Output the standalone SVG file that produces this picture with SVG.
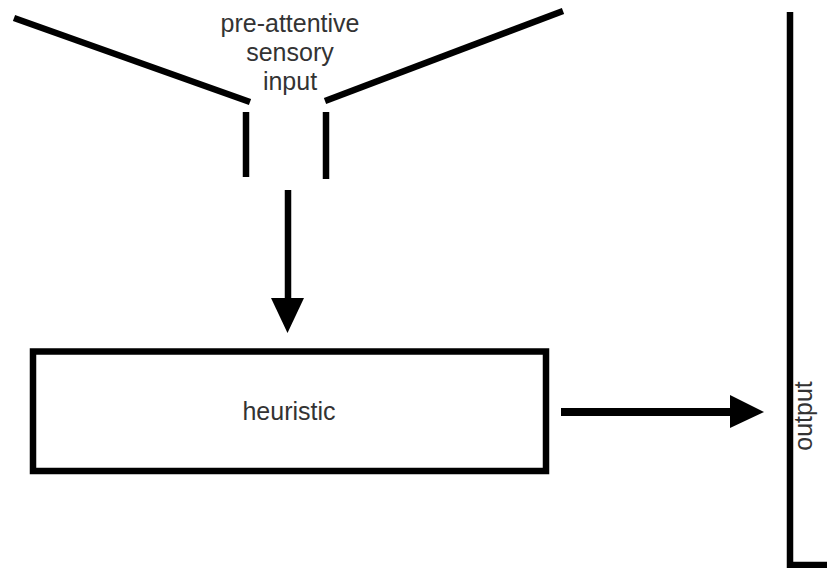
<svg xmlns="http://www.w3.org/2000/svg" width="827" height="568" viewBox="0 0 827 568">
<style>
.ln{stroke:#000;stroke-width:6.5;fill:none}
.t{font-family:"Liberation Sans",Arial,sans-serif;font-size:25px;fill:#333;text-anchor:middle}
</style>
<rect width="827" height="568" fill="#fff"/>
<g id="input">
<line class="ln" x1="14" y1="18" x2="250" y2="102"/>
<line class="ln" x1="325" y1="101" x2="563" y2="11"/>
<line class="ln" x1="246" y1="112" x2="246" y2="177"/>
<line class="ln" x1="326" y1="112" x2="326" y2="179"/>
<text class="t" x="290" y="32">pre-attentive</text>
<text class="t" x="290" y="61">sensory</text>
<text class="t" x="290" y="90">input</text>
</g>
<g id="heuristic">
<rect class="ln" x="33" y="351.5" width="513" height="119.5"/>
<text class="t" x="289" y="420">heuristic</text>
</g>
<g id="output">
<polyline class="ln" points="790,12 790,565 830,565"/>
<text class="t" transform="translate(811.5,416) rotate(-90)">output</text>
</g>
<g id="connectors">
<line class="ln" x1="288" y1="190" x2="288" y2="300"/>
<polygon points="271,298 304,298 287.5,333"/>
<line class="ln" x1="561" y1="412" x2="732" y2="412" style="stroke-width:8"/>
<polygon points="730,395 730,428 764,412"/>
</g>
</svg>
